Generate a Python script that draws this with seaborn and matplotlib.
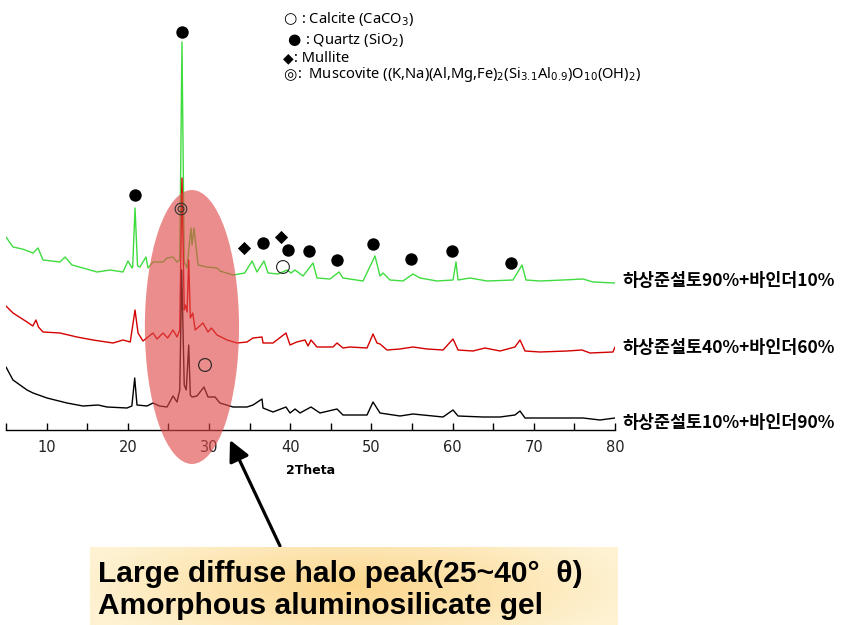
import numpy as np
import pandas as pd
import matplotlib
matplotlib.use("Agg")
import matplotlib.pyplot as plt
import seaborn as sns
from matplotlib.patches import Ellipse

# ---------------- data (2-theta in degrees, intensity in a.u. incl. offset) -------------
green_2theta = [5.0, 5.86, 7.0, 8.33, 8.94, 9.56, 11.65, 12.27, 13.13, 14.48, 16.21, 17.81, 19.41,
                20.02, 20.52, 20.6, 20.89, 21.2, 21.50, 22.24, 22.49, 23.10, 24.34, 24.83,
                25.57, 26.06, 26.4, 26.67, 26.95, 27.29, 27.78, 27.91, 28.15, 28.65, 29.75,
                30.99, 31.35, 32.96, 34.4, 35.30, 35.91, 36.77, 37.27, 38.50, 39.61, 40.1,
                40.59, 41.58, 42.81, 43.30, 44.90, 46.01, 46.50, 48.97, 50.44, 51.06, 51.43,
                52.29, 53.89, 55.12, 55.99, 58.08, 60.05, 60.42, 60.67, 62.14, 64.24, 67.44,
                68.18, 68.55, 69.04, 70.76, 73.60, 76.06, 77.29, 80.0]
green_int = [193, 183, 181, 177, 182, 170, 168, 173, 165, 162, 158, 160, 158,
             169, 162, 163, 222, 164, 163, 173, 162, 168, 168, 172,
             173, 168, 170, 388, 168, 162, 202, 185, 202, 165, 163,
             162, 159, 155, 157, 169, 158, 169, 157, 156, 160, 157,
             160, 154, 167, 152, 151, 158, 152, 149, 174, 154, 157,
             150, 149, 156, 152, 149, 150, 168, 150, 152, 149, 150,
             160, 165, 150, 149, 150, 151, 148, 147]

red_2theta = [5.0, 5.86, 7.59, 8.3, 8.69, 9.0, 9.56, 11.65, 13.74, 15.71, 18.18, 19.41,
              20.3, 20.89, 21.26, 21.87, 23.10, 23.6, 24.34, 24.9, 25.57, 26.06, 26.4,
              26.67, 26.95, 27.1, 27.3, 27.5, 27.7, 28.0, 28.3, 29.26, 29.88, 30.3, 30.99,
              32.22, 33.45, 34.68, 35.42, 36.53, 36.65, 37.88, 39.48, 39.98, 40.8, 41.82,
              42.2, 42.56, 43.30, 45.27, 45.76, 46.50, 47.36, 49.46, 50.20, 50.69, 51.06,
              51.92, 53.52, 55.12, 56.85, 58.82, 60.05, 60.67, 62.51, 63.99, 65.84, 67.68,
              68.30, 68.92, 70.76, 74.09, 75.94, 76.92, 79.75, 80.0]
red_int = [124, 117, 108, 104, 110, 103, 98, 97, 93, 90, 87, 90,
           88, 120, 97, 89, 97, 91, 97, 92, 100, 93, 100,
           252, 120, 125, 118, 170, 112, 117, 100, 107, 98, 102, 95,
           90, 87, 88, 92, 93, 87, 87, 97, 85, 88, 90,
           84, 90, 83, 83, 87, 82, 83, 82, 96, 87, 86,
           80, 81, 83, 81, 80, 91, 80, 79, 82, 79, 83,
           90, 79, 78, 79, 80, 77, 78, 83]

black_2theta = [5.0, 5.86, 7.59, 8.33, 10.05, 12.51, 14.48, 16.33, 17.44, 19.90, 20.5, 20.85,
                21.13, 22.36, 23.10, 23.9, 24.83, 25.57, 26.06, 26.4, 26.64, 26.95, 27.2,
                27.5, 27.7, 27.91, 28.52, 29.38, 29.88, 30.74, 31.35, 32.96, 34.68, 35.42,
                36.53, 36.65, 37.88, 39.48, 39.98, 40.6, 41.21, 42.56, 43.67, 45.76, 46.50,
                49.46, 50.20, 51.06, 53.52, 55.12, 58.82, 60.05, 60.67, 63.74, 65.84, 67.68,
                68.30, 68.92, 71.99, 74.09, 76.06, 78.15, 80.0]
black_int = [63, 50, 40, 37, 32, 27, 24, 25, 23, 22, 24, 52,
             25, 24, 27, 24, 23, 34, 28, 40, 160, 45, 40,
             85, 35, 33, 34, 43, 33, 33, 27, 23, 23, 25,
             31, 22, 18, 23, 17, 21, 17, 23, 17, 21, 15,
             15, 28, 17, 14, 16, 13, 20, 14, 13, 13, 15,
             19, 12, 12, 12, 12, 10, 12]

series_labels = ["하상준설토90%+바인더10%", "하상준설토40%+바인더60%", "하상준설토10%+바인더90%"]
series_label_y = [149, 82, 7]

quartz_x = [26.70, 20.89, 36.65, 39.73, 42.32, 45.76, 50.20, 54.88, 59.93, 67.19]
quartz_y = [398, 235, 187, 180, 179, 170, 186, 171, 179, 167]
mullite_x = [34.31, 38.87]
mullite_y = [182, 193]
calcite_x = [39.11, 29.51]
calcite_y = [163, 65]
muscovite_x = [26.55]
muscovite_y = [221]

tick_values = [10, 20, 30, 40, 50, 60, 70, 80]
tick_labels = ["10", "20", "30", "40", "50", "60", "70", "80"]

legend_symbols = ["○", "●", "◆", "◎"]
legend_texts = [
    ": Calcite (CaCO$_3$)",
    ": Quartz (SiO$_2$)",
    ": Mullite",
    ":  Muscovite ((K,Na)(Al,Mg,Fe)$_2$(Si$_{3.1}$Al$_{0.9}$)O$_{10}$(OH)$_2$)",
]
callout_lines = ["Large diffuse halo peak(25~40°  θ)", "Amorphous aluminosilicate gel"]

# ---------------- figure ----------------
sns.set_theme(style="white")
plt.rcParams["font.family"] = ["DejaVu Sans"]
plt.rcParams["mathtext.fontset"] = "dejavusans"
plt.rcParams["text.color"] = "black"
plt.rcParams["xtick.color"] = "black"
plt.rcParams["axes.labelcolor"] = "black"

W, H = 841, 625
fig = plt.figure(figsize=(W / 100, H / 100), dpi=100)
ax = fig.add_axes([6 / W, 195 / H, 609 / W, 430 / H])
ax.set_xlim(5, 80)
ax.set_ylim(0, 430)

colors = ["#3fdc3f", "#d40000", "#000000"]
for xs, ys, c in [(green_2theta, green_int, colors[0]),
                  (red_2theta, red_int, colors[1]),
                  (black_2theta, black_int, colors[2])]:
    df = pd.DataFrame({"two_theta": xs, "intensity": ys})
    sns.lineplot(data=df, x="two_theta", y="intensity", ax=ax, color=c, lw=1.0,
                 sort=False, estimator=None, zorder=2)

# red halo ellipse
ell = Ellipse((27.9, 103), width=11.6, height=274, facecolor="#e04848", alpha=0.62,
              edgecolor="none", zorder=3, clip_on=False)
ax.add_patch(ell)

# phase markers
sns.scatterplot(x=quartz_x, y=quartz_y, ax=ax, marker="o", s=80, color="black",
                edgecolor="black", linewidth=0, zorder=5, clip_on=False)
sns.scatterplot(x=mullite_x, y=mullite_y, ax=ax, marker="D", s=45, color="black",
                edgecolor="black", linewidth=0, zorder=5, clip_on=False)
sns.scatterplot(x=calcite_x, y=calcite_y, ax=ax, marker="o", s=85, facecolor="none",
                edgecolor="#222222", linewidth=0.8, zorder=5, clip_on=False)
sns.scatterplot(x=muscovite_x, y=muscovite_y, ax=ax, marker="o", s=70, facecolor="none",
                edgecolor="#333333", linewidth=0.8, zorder=5, clip_on=False)
sns.scatterplot(x=muscovite_x, y=muscovite_y, ax=ax, marker="o", s=18, facecolor="none",
                edgecolor="#333333", linewidth=0.8, zorder=5, clip_on=False)

# series labels
for lab, yy in zip(series_labels, series_label_y):
    ax.text(80.85, yy, lab, fontsize=12.5, fontweight="bold", va="center", ha="left",
            family=["Noto Sans CJK KR", "DejaVu Sans"], clip_on=False)

# axes styling
for s in ["left", "right", "top"]:
    ax.spines[s].set_visible(False)
ax.spines["bottom"].set_color("black")
ax.spines["bottom"].set_linewidth(1.0)
ax.set_yticks([])
ax.set_xticks(tick_values)
ax.set_xticklabels(tick_labels)
ax.set_xticks([5, 15, 25, 35, 45, 55, 65, 75], minor=True)
ax.tick_params(axis="x", which="both", direction="in", length=5, width=1, color="black",
               bottom=True, labelsize=10.5, pad=7, labelcolor="#222222")
ax.set_xlabel("2Theta", fontsize=9, fontweight="bold", labelpad=7)
ax.set_ylabel("")
ax.grid(False)

# top legend text (symbol + description)
legend_y = [19, 40, 58, 75]
sym_x = [283, 287, 283, 283]
txt_x = [301, 305, 294, 297]
sym_size = [11, 11, 10, 11]
for sym, txt, yy, sx, tx, ss in zip(legend_symbols, legend_texts, legend_y, sym_x, txt_x, sym_size):
    fig.text(sx / W, 1 - yy / H, sym, fontsize=ss, va="center", ha="left",
             family=["DejaVu Sans"])
    fig.text(tx / W, 1 - yy / H, txt, fontsize=10.6, va="center", ha="left",
             family=["Noto Sans", "DejaVu Sans"])

# callout box with gradient
bax = fig.add_axes([90 / W, 0, 528 / W, 78 / H])
gx = np.linspace(-1, 1, 300)
gy = np.linspace(-1, 1, 60)
GX, GY = np.meshgrid(gx, gy)
r = np.clip(np.sqrt((GX / 1.05) ** 2 + (GY / 1.8) ** 2), 0, 1)
c_in = np.array([252, 214, 140]) / 255
c_out = np.array([254, 242, 210]) / 255
img = c_in[None, None, :] * (1 - r[..., None]) + c_out[None, None, :] * r[..., None]
bax.imshow(img, aspect="auto", extent=[0, 1, 0, 1], interpolation="bilinear")
bax.axis("off")
fig.text(98 / W, 1 - 574 / H, callout_lines[0], fontsize=21.6, fontweight="bold",
         family=["Liberation Sans", "DejaVu Sans"], va="center", ha="left", color="black")
fig.text(98 / W, 1 - 606 / H, callout_lines[1], fontsize=21.6, fontweight="bold",
         family=["Liberation Sans", "DejaVu Sans"], va="center", ha="left", color="black")

# arrow
ax.annotate("", xy=(230, H - 440), xycoords="figure pixels",
            xytext=(280, H - 546), textcoords="figure pixels",
            arrowprops=dict(arrowstyle="-|>,head_length=0.9,head_width=0.45", lw=2.3,
                            color="black", shrinkA=0, shrinkB=0, mutation_scale=14),
            annotation_clip=False, zorder=6)

fig.savefig("out.png", dpi=100)
